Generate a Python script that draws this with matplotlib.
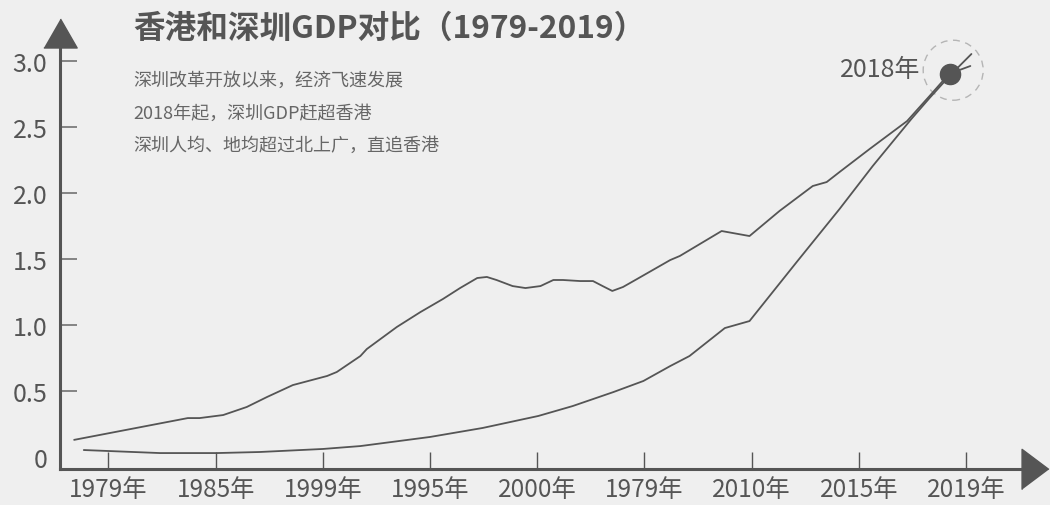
import matplotlib.pyplot as plt
from matplotlib.patches import Circle
from matplotlib.transforms import ScaledTranslation

plt.rcParams['font.family'] = ['Noto Sans CJK SC', 'DejaVu Sans']

#*****************************Data********************************#

year_labels = ['1979年', '1985年', '1999年', '1995年', '2000年',
               '1979年', '2010年', '2015年', '2019年']
y_ticks = [0, 0.5, 1.0, 1.5, 2.0, 2.5, 3.0]
y_tick_labels = ['0', '0.5', '1.0', '1.5', '2.0', '2.5', '3.0']

# Hong Kong (upper curve), positions in tick units
hk_x = [-0.32, 0.74, 0.85, 1.07, 1.29, 1.48, 1.72, 2.04, 2.13, 2.35, 2.41,
        2.69, 2.91, 3.12, 3.28, 3.44, 3.53, 3.62, 3.77, 3.89, 4.03, 4.15,
        4.24, 4.40, 4.52, 4.61, 4.70, 4.80, 4.93, 5.24, 5.33, 5.72, 5.98,
        6.26, 6.57, 6.70, 6.82, 7.10, 7.45, 7.66, 7.85, 7.94, 8.04]
hk_y = [0.13, 0.295, 0.295, 0.318, 0.379, 0.455, 0.545, 0.614, 0.644, 0.765,
        0.818, 0.985, 1.098, 1.197, 1.28, 1.356, 1.364, 1.341, 1.295, 1.28,
        1.295, 1.341, 1.341, 1.333, 1.333, 1.295, 1.258, 1.288, 1.348, 1.492,
        1.523, 1.712, 1.674, 1.864, 2.053, 2.083, 2.159, 2.333, 2.545, 2.735,
        2.91, 2.932, 2.962]

# Shenzhen (lower curve)
sz_x = [-0.23, 0.48, 1.01, 1.41, 2.00, 2.35, 3.00, 3.49, 4.01, 4.33, 4.71,
        4.99, 5.24, 5.42, 5.75, 5.98, 6.42, 6.82, 7.13, 7.49, 7.66, 7.85, 8.05]
sz_y = [0.053, 0.03, 0.03, 0.038, 0.061, 0.083, 0.152, 0.22, 0.311, 0.386,
        0.492, 0.576, 0.689, 0.765, 0.977, 1.03, 1.477, 1.879, 2.205, 2.561,
        2.72, 2.89, 3.053]

# Crossing point (2018)
cross_x = 7.85
cross_y = 2.90

notes = ['深圳改革开放以来，经济飞速发展',
         '2018年起，深圳GDP赶超香港',
         '深圳人均、地均超过北上广，直追香港']

#*****************************Figure******************************#

dark = '#555555'
fig = plt.figure(figsize=(10.5, 5.06), dpi=100, facecolor='#efefef')
ax = fig.add_axes([0.0571, 0.0711, 0.9286, 0.8617])
ax.set_facecolor('#efefef')

# Curves
ax.plot(hk_x, hk_y, color=dark, lw=1.3, solid_capstyle='round')
ax.plot(sz_x, sz_y, color=dark, lw=1.3, solid_capstyle='round')

# Highlight dot and dashed ring
ax.plot(cross_x, cross_y, 'o', color=dark, ms=14.5, zorder=5)
ring = Circle((0, 0), radius=0.30, fill=False, ec='#b5b5b5', lw=1,
              ls=(0, (5, 4)),
              transform=fig.dpi_scale_trans + ScaledTranslation(
                  cross_x + 0.03, cross_y + 0.03, ax.transData))
ax.add_patch(ring)
ax.annotate('2018年', xy=(cross_x, cross_y), xytext=(-21, 4),
            textcoords='offset points', ha='right', va='center',
            fontsize=18, color=dark)

# Axes limits
ax.set_xlim(-0.4524, 8.643)
ax.set_ylim(-0.0909, 3.212)

# Spines with arrow heads
for side in ['top', 'right']:
    ax.spines[side].set_visible(False)
for side in ['left', 'bottom']:
    ax.spines[side].set_color(dark)
    ax.spines[side].set_linewidth(2.2)
ax.plot(0, 1, marker=[(-1.15, -1), (1.15, -1), (0, 1)], ms=24, color=dark,
        transform=ax.transAxes, clip_on=False)
ax.plot(1, 0, marker=[(-1, -1.5), (-1, 1.5), (1, 0)], ms=29, color=dark,
        transform=ax.transAxes, clip_on=False)

# Ticks
ax.set_xticks(range(len(year_labels)))
ax.set_xticklabels(year_labels)
ax.set_yticks(y_ticks)
ax.set_yticklabels(y_tick_labels)
ax.tick_params(axis='x', direction='in', length=12, width=1, color=dark,
               labelsize=17.5, labelcolor=dark, pad=5)
ax.tick_params(axis='y', direction='in', length=12, width=1.1, color='#666666',
               labelsize=18, labelcolor=dark, pad=9)
ax.yaxis.get_major_ticks()[0].tick1line.set_visible(False)

# Title and notes
fig.text(133 / 1050, 1 - 29 / 506, '香港和深圳GDP对比（1979-2019）',
         fontsize=22.8, fontweight='bold', color=dark, va='center')
for i, line in enumerate(notes):
    fig.text(133 / 1050, 1 - (81 + 32.5 * i) / 506, line, fontsize=13,
             color='#666666', va='center')

fig.savefig('out.png', dpi=100, facecolor=fig.get_facecolor())
